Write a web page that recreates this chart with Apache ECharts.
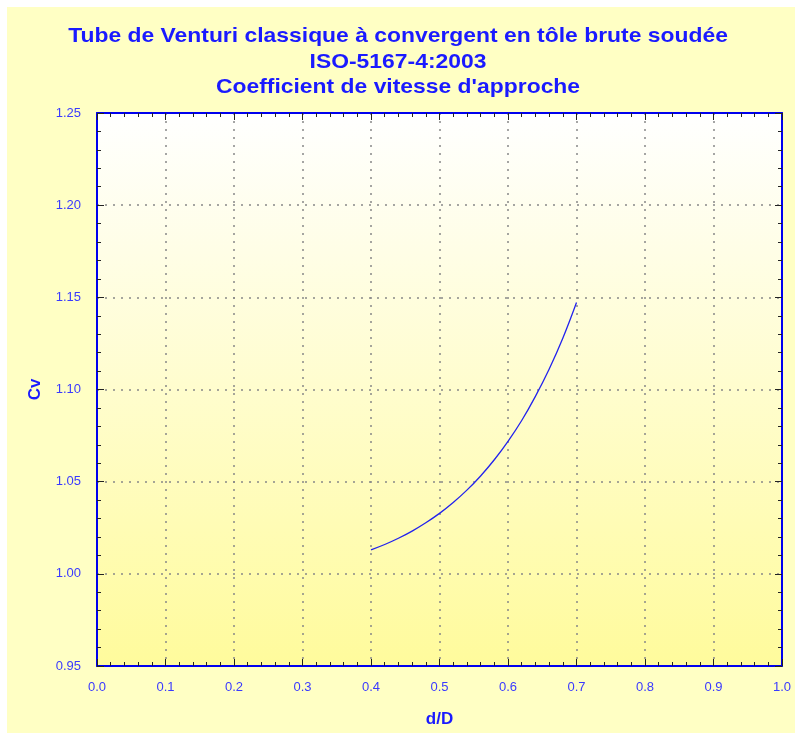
<!DOCTYPE html>
<html>
<head>
<meta charset="utf-8">
<script src="https://cdn.jsdelivr.net/npm/echarts@6/dist/echarts.min.js"></script>
<style>
  html, body { margin: 0; padding: 0; background: #fff; }
  #chart { width: 795px; height: 733px; }
</style>
</head>
<body>
<div id="chart"></div>
<script>
// d/D values and the Cv
var ratio = [0.40, 0.42, 0.44, 0.46, 0.48, 0.50, 0.52, 0.54, 0.56, 0.58, 0.60, 0.62, 0.64, 0.66, 0.68, 0.70];
var cv = [1.0130, 1.0159, 1.0193, 1.0232, 1.0277, 1.0328, 1.0387, 1.0454, 1.0531, 1.0619, 1.0719, 1.0832, 1.0963, 1.1110, 1.1278, 1.1472];

var titleLines = ['Tube de Venturi classique à convergent en tôle brute soudée', 'ISO-5167-4:2003', "Coefficient de vitesse d'approche"];

var blue = '#1a1aff';
var font = 'Liberation Sans, Arial, sans-serif';

var myChart = echarts.init(document.getElementById('chart'));

var points = [];
for (var i = 0; i < ratio.length; i++) {
  points.push([ratio[i], cv[i]]);
}

// title drawn as text elements, a bit stretched like the original
var graphics = [{
  type: 'rect',
  z: -10,
  shape: { x: 7, y: 7, width: 795, height: 733 },
  style: { fill: '#ffffc4' }
}];
titleLines.forEach(function (line, k) {
  graphics.push({
    type: 'text',
    x: 398,
    y: 26 + k * 25.5,
    scaleX: 1.09,
    style: {
      text: line,
      fill: blue,
      font: 'bold 21px ' + font,
      textAlign: 'center',
      textVerticalAlign: 'top'
    }
  });
});

// ticks on the frame, pointing inward
var tickStyle = { show: true, inside: true, length: 7, lineStyle: { color: '#222', width: 1 } };
var minorStyle = { show: true, splitNumber: 5, length: 4, lineStyle: { color: '#222', width: 1 } };

var option = {
  backgroundColor: '#fff',
  graphic: graphics,
  grid: {
    left: 97, right: 13, top: 113, bottom: 67,
    show: true,
    borderWidth: 0,
    backgroundColor: new echarts.graphic.LinearGradient(0, 0, 0, 1, [
      { offset: 0, color: '#ffffff' },
      { offset: 1, color: '#fffb9c' }
    ])
  },
  xAxis: [{
    type: 'value',
    min: 0, max: 1, interval: 0.1,
    name: 'd/D',
    nameLocation: 'middle',
    nameGap: 45,
    nameTextStyle: { color: blue, fontSize: 17, fontWeight: 'bold', fontFamily: font },
    axisLine: { show: true, onZero: false, lineStyle: { color: '#0000ee', width: 2 } },
    axisTick: tickStyle,
    minorTick: minorStyle,
    axisLabel: { color: '#3a3aff', fontSize: 13, fontFamily: font, margin: 15, formatter: function (v) { return v.toFixed(1); } },
    splitLine: { show: true, lineStyle: { color: '#888', type: [2, 6], width: 1.5 } }
  }, {
    type: 'value',
    position: 'top',
    min: 0, max: 1, interval: 0.1,
    axisLine: { show: true, onZero: false, lineStyle: { color: '#0000ee', width: 2 } },
    axisTick: tickStyle,
    minorTick: minorStyle,
    axisLabel: { show: false },
    splitLine: { show: false }
  }],
  yAxis: [{
    type: 'value',
    min: 0.95, max: 1.25, interval: 0.05,
    name: 'Cv',
    nameLocation: 'middle',
    nameRotate: 90,
    nameGap: 53,
    nameTextStyle: { color: blue, fontSize: 17, fontWeight: 'bold', fontFamily: font },
    axisLine: { show: true, onZero: false, lineStyle: { color: '#0000ee', width: 2 } },
    axisTick: tickStyle,
    minorTick: minorStyle,
    axisLabel: { color: '#3a3aff', fontSize: 13, fontFamily: font, margin: 16, formatter: function (v) { return v.toFixed(2); } },
    splitLine: { show: true, lineStyle: { color: '#888', type: [2, 6], width: 1.5 } }
  }, {
    type: 'value',
    position: 'right',
    min: 0.95, max: 1.25, interval: 0.05,
    axisLine: { show: true, onZero: false, lineStyle: { color: '#0000ee', width: 2 } },
    axisTick: tickStyle,
    minorTick: minorStyle,
    axisLabel: { show: false },
    splitLine: { show: false }
  }],
  series: [{
    type: 'line',
    data: points,
    smooth: 0.4,
    showSymbol: false,
    lineStyle: { color: '#2222ee', width: 1.3 }
  }]
};

myChart.setOption(option);
</script>
</body>
</html>
